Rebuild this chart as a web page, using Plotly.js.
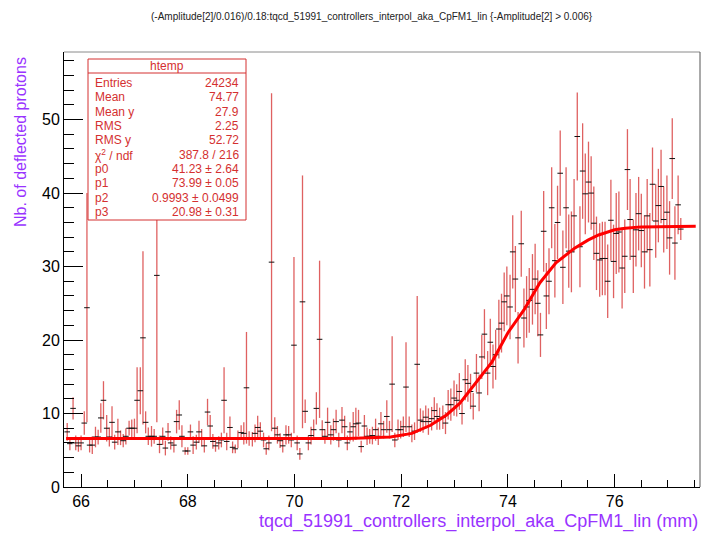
<!DOCTYPE html>
<html>
<head>
<meta charset="utf-8">
<script src="https://cdn.plot.ly/plotly-3.0.1.min.js"></script>
<style>html,body{margin:0;padding:0;background:#fff;}#chart{width:710px;height:535px;}</style>
</head>
<body>
<div id="chart"></div>
<script>
// bin centres (mm)
const binCenters = [
65.74,65.79,65.85,65.90,65.95,66.00,66.06,66.11,66.16,66.21,66.27,66.32,66.37,66.42,66.48,66.53,66.58,66.63,66.69,66.74,
66.79,66.84,66.90,66.95,67.00,67.05,67.11,67.16,67.21,67.26,67.32,67.37,67.42,67.47,67.53,67.58,67.63,67.68,67.74,67.79,
67.84,67.89,67.95,68.00,68.05,68.10,68.16,68.21,68.26,68.31,68.37,68.42,68.47,68.52,68.58,68.63,68.68,68.73,68.79,68.84,
68.89,68.94,69.00,69.05,69.10,69.15,69.21,69.26,69.31,69.36,69.42,69.47,69.52,69.57,69.63,69.68,69.73,69.78,69.84,69.89,
69.94,69.99,70.05,70.10,70.15,70.20,70.26,70.31,70.36,70.41,70.47,70.52,70.57,70.62,70.68,70.73,70.78,70.83,70.89,70.94,
70.99,71.04,71.10,71.15,71.20,71.25,71.31,71.36,71.41,71.46,71.52,71.57,71.62,71.67,71.73,71.78,71.83,71.88,71.94,71.99,
72.04,72.09,72.15,72.20,72.25,72.30,72.36,72.41,72.46,72.51,72.57,72.62,72.67,72.72,72.78,72.83,72.88,72.93,72.99,73.04,
73.09,73.14,73.20,73.25,73.30,73.35,73.41,73.46,73.51,73.56,73.62,73.67,73.72,73.77,73.83,73.88,73.93,73.98,74.04,74.09,
74.14,74.19,74.25,74.30,74.35,74.40,74.46,74.51,74.56,74.61,74.67,74.72,74.77,74.82,74.88,74.93,74.98,75.03,75.09,75.14,
75.19,75.24,75.30,75.35,75.40,75.45,75.51,75.56,75.61,75.66,75.72,75.77,75.82,75.87,75.93,75.98,76.03,76.08,76.14,76.19,
76.24,76.29,76.35,76.40,76.45,76.50,76.56,76.61,76.66,76.71,76.77,76.82,76.87,76.92,76.98,77.03,77.08,77.13,77.19,77.24];

// profile mean values (Nb. of deflected protons)
const protons = [
7.5,5.9,10.7,6.0,5.6,6.0,8.7,24.4,5.7,5.7,6.8,6.8,9.4,11.8,8.0,6.8,8.8,6.1,7.5,6.7,
6.3,6.9,8.0,8.0,8.0,11.8,13.1,20.3,8.8,6.9,6.9,6.9,28.8,5.8,6.9,5.3,7.5,6.0,5.7,8.9,
9.8,6.9,4.9,4.9,7.5,5.7,6.1,7.5,6.7,5.6,10.2,8.3,6.2,5.6,6.0,6.4,11.8,6.2,8.1,5.4,
5.2,6.5,7.4,7.3,13.5,6.6,6.5,7.3,8.1,7.6,6.4,5.2,6.0,30.6,8.0,7.1,6.3,5.6,7.1,7.1,
6.4,19.3,6.0,4.5,25.2,10.3,6.0,7.0,7.8,10.7,20.1,7.8,6.9,8.8,7.1,7.8,8.9,6.4,9.1,8.2,
6.0,7.5,8.2,8.6,8.7,5.5,8.3,6.9,6.9,7.0,7.8,6.9,8.6,7.8,9.6,7.8,14.0,6.4,7.8,7.8,
8.2,13.6,8.2,7.3,7.6,16.7,9.1,8.9,9.5,8.9,9.3,10.4,9.6,9.3,9.5,8.7,11.2,11.2,12.1,11.8,
13.0,10.0,14.6,14.1,13.0,11.0,15.5,12.8,17.7,20.8,15.5,19.7,16.4,18.0,21.5,22.3,25.2,26.0,24.5,32.0,
28.3,20.3,33.1,23.0,24.5,25.4,26.9,28.3,25.0,20.7,34.8,26.0,28.0,38.0,30.8,36.0,42.7,29.9,38.0,32.1,
32.0,36.9,47.7,32.7,43.0,39.9,41.5,40.0,35.9,31.8,30.9,31.1,31.1,28.0,36.3,30.7,34.5,34.7,29.8,31.4,
43.2,36.4,31.4,35.0,37.2,34.9,32.0,36.9,32.3,41.2,36.2,38.3,40.9,36.4,37.4,33.9,44.7,33.2,38.4,35.1];

// errors on the mean
const protonErr = [
1.2,0.9,1.5,1.0,0.8,1.0,1.6,15.6,1.0,1.2,1.4,1.0,2.0,2.6,1.8,1.3,2.2,1.0,1.8,1.0,
0.9,1.1,1.0,1.2,1.3,4.5,3.2,11.8,1.5,1.2,1.4,1.0,20.0,1.2,1.2,1.0,1.2,0.9,1.0,1.6,
2.0,1.5,0.5,0.5,1.0,1.2,1.0,1.5,1.2,0.9,1.8,1.5,1.0,0.8,0.9,1.0,4.5,1.2,1.5,0.8,
0.6,1.2,1.0,1.5,7.6,1.0,1.0,1.2,1.6,1.2,1.0,0.8,1.0,23.0,1.5,1.2,1.0,0.9,1.3,1.2,
1.0,12.0,1.0,0.8,17.2,1.6,1.0,1.2,1.4,2.2,10.7,1.3,1.0,2.0,1.3,1.5,1.6,1.0,1.8,1.5,
1.0,1.3,2.0,2.2,1.8,0.8,1.5,1.2,1.0,1.2,1.5,1.2,1.6,1.2,2.2,1.2,6.5,1.0,1.4,1.2,
1.4,6.1,1.4,1.2,1.2,9.3,1.6,1.5,1.6,1.8,1.6,1.8,1.8,1.5,1.6,1.5,2.0,2.2,2.4,2.2,
2.5,1.5,2.8,2.5,2.4,1.8,2.6,2.5,3.0,3.4,3.0,3.2,3.0,3.4,4.0,4.0,4.0,4.0,4.4,5.0,
4.5,3.5,4.5,4.0,4.2,4.4,4.8,4.8,4.5,3.0,5.5,4.5,4.5,5.5,5.0,5.0,5.8,5.0,5.5,5.0,
5.5,5.0,6.0,5.5,6.5,5.5,5.5,5.0,5.0,5.0,5.0,5.0,5.0,5.0,5.5,5.0,5.5,5.5,5.5,5.0,
5.5,5.5,5.0,5.0,5.0,5.0,5.0,5.0,5.0,5.0,5.0,5.0,5.0,4.5,5.0,5.0,5.5,5.0,4.0,1.5];

// fitted curve
const fitX = [65.72,71.0,71.8,72.2,72.55,72.85,73.1,73.3,73.5,73.7,74.0,74.3,74.6,74.9,75.25,75.5,75.7,76.0,76.2,76.5,77.52];
const fitY = [6.6,6.6,6.8,7.3,8.4,9.8,11.4,13.3,15.2,17.0,21.0,24.1,27.8,30.5,32.5,33.6,34.3,35.0,35.2,35.4,35.5];

// statistics box
const statLabels = ["Entries","Mean","Mean y","RMS","RMS y","χ<sup>2</sup> / ndf","p0","p1","p2","p3"];
const statValues = ["24234","74.77","27.9","2.25","52.72","387.8 / 216","41.23 ± 2.64","73.99 ± 0.05","0.9993 ± 0.0499","20.98 ± 0.31"];

const chartTitle = "(-Amplitude[2]/0.016)/0.18:tqcd_51991_controllers_interpol_aka_CpFM1_lin {-Amplitude[2] > 0.006}";
const xTitle = "tqcd_51991_controllers_interpol_aka_CpFM1_lin (mm)";
const yTitle = "Nb. of deflected protons";

const FONT = "Liberation Sans, Arial, Helvetica, sans-serif";
const PURPLE = "#9933ff";
const STATRED = "#d43030";

// pixel helpers for paper coordinates (plot area 64..700 x 52..487)
const L = 64, R = 700, T = 52, B = 487;
const px = v => (v - L) / (R - L);
const py = v => (B - v) / (B - T);

const traces = [
  {
    type: "scatter", mode: "markers",
    x: binCenters, y: protons,
    error_y: {type: "data", array: protonErr, visible: true, color: "rgba(210,30,30,0.7)", thickness: 1.3, width: 0},
    marker: {symbol: "line-ew", size: 4, color: "#111", line: {color: "#111", width: 1}},
    hoverinfo: "x+y", showlegend: false
  },
  {
    type: "scatter", mode: "lines",
    x: fitX, y: fitY,
    line: {color: "#ff0000", width: 3},
    hoverinfo: "skip", showlegend: false
  }
];

const annotations = [
  {text: chartTitle, xref: "paper", yref: "paper", x: px(372), y: py(17), xanchor: "center", yanchor: "middle",
   showarrow: false, font: {family: FONT, size: 10, color: "#222"}},
  {text: xTitle, xref: "paper", yref: "paper", x: 1, y: py(521), xanchor: "right", yanchor: "middle",
   showarrow: false, font: {family: FONT, size: 18, color: PURPLE}},
  {text: yTitle, xref: "paper", yref: "paper", x: px(20), y: py(55), xanchor: "center", yanchor: "top", textangle: -90,
   showarrow: false, font: {family: FONT, size: 16, color: PURPLE}},
  {text: "htemp", xref: "paper", yref: "paper", x: px(167), y: py(66), xanchor: "center", yanchor: "middle",
   showarrow: false, font: {family: FONT, size: 12, color: STATRED}}
];
const rowTop = 83, rowStep = 14.33;
statLabels.forEach((lab, i) => {
  const yy = py(rowTop + i * rowStep);
  annotations.push({text: lab, xref: "paper", yref: "paper", x: px(93), y: yy, xanchor: "left", yanchor: "middle",
    showarrow: false, font: {family: FONT, size: 12, color: STATRED}});
  annotations.push({text: statValues[i], xref: "paper", yref: "paper", x: px(241), y: yy, xanchor: "right", yanchor: "middle",
    showarrow: false, font: {family: FONT, size: 12, color: STATRED}});
});

const shapes = [
  {type: "line", xref: "paper", yref: "paper", x0: 0, x1: 1, y0: 1, y1: 1, line: {color: "#8a8a8a", width: 1}},
  {type: "line", xref: "paper", yref: "paper", x0: 1, x1: 1, y0: 0, y1: 1, line: {color: "#555", width: 1}},
  {type: "rect", xref: "paper", yref: "paper", x0: px(88), x1: px(246), y0: py(220), y1: py(59),
   fillcolor: "#ffffff", line: {color: STATRED, width: 1}, layer: "above"},
  {type: "line", xref: "paper", yref: "paper", x0: px(88), x1: px(246), y0: py(73), y1: py(73),
   line: {color: STATRED, width: 1}, layer: "above"}
];

const layout = {
  width: 710, height: 535,
  margin: {l: L, r: 710 - R, t: T, b: 535 - B},
  paper_bgcolor: "#ffffff", plot_bgcolor: "#ffffff",
  font: {family: FONT, color: "#000"},
  showlegend: false,
  xaxis: {
    range: [65.68, 77.6], tick0: 66, dtick: 2, ticks: "inside", ticklen: 13, tickwidth: 1, tickcolor: "#000",
    minor: {dtick: 0.5, ticks: "inside", ticklen: 7, tickcolor: "#000", showgrid: false},
    showgrid: false, zeroline: false, showline: true, linecolor: "#000", linewidth: 1,
    tickfont: {family: FONT, size: 16, color: "#000"}
  },
  yaxis: {
    range: [0, 59.2], tick0: 0, dtick: 10, ticks: "inside", ticklen: 19, tickwidth: 1, tickcolor: "#000",
    minor: {dtick: 2, ticks: "inside", ticklen: 10, tickcolor: "#000", showgrid: false},
    showgrid: false, zeroline: false, showline: true, linecolor: "#000", linewidth: 1,
    tickfont: {family: FONT, size: 16, color: "#000"}
  },
  annotations: annotations,
  shapes: shapes
};

Plotly.newPlot("chart", traces, layout, {staticPlot: true, displayModeBar: false});
</script>
</body>
</html>
